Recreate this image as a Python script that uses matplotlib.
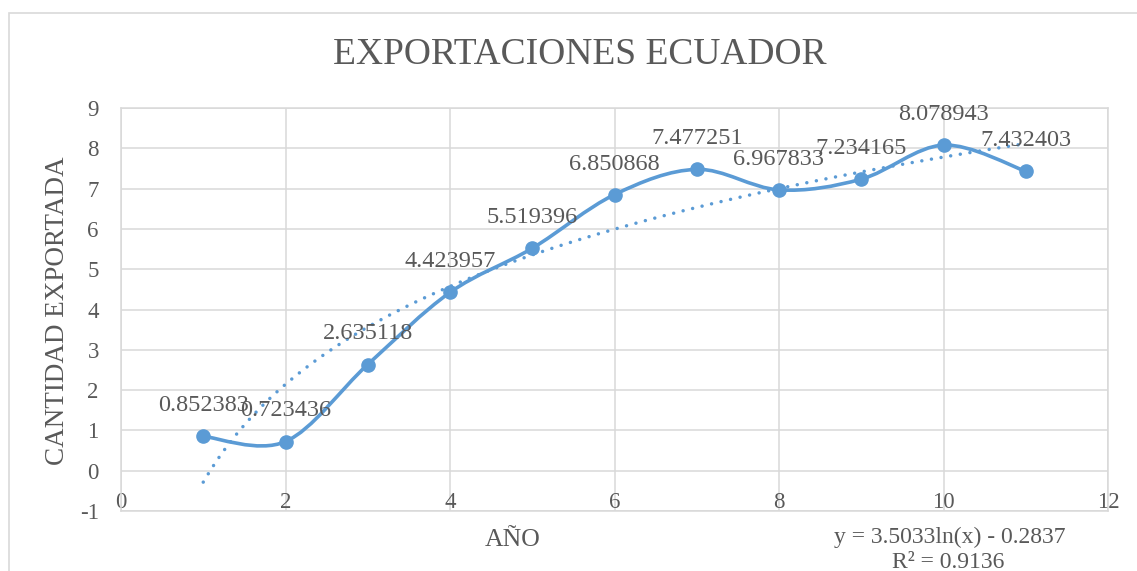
import matplotlib
matplotlib.use("Agg")
import matplotlib.pyplot as plt
import numpy as np
from matplotlib.path import Path
from matplotlib.patches import PathPatch, Rectangle

# exportaciones por año
anios = [1, 2, 3, 4, 5, 6, 7, 8, 9, 10, 11]
cantidad = [0.852383, 0.723436, 2.635118, 4.423957, 5.519396, 6.850868,
            7.477251, 6.967833, 7.234165, 8.078943, 7.432403]

# tendencia logaritmica y = a*ln(x) + b
trend_a = 3.5033
trend_b = -0.2837
trend_r2 = 0.9136

azul = "#5B9BD5"
gris_txt = "#595959"
gris_grid = "#D9D9D9"

plt.rcParams['font.family'] = ['Liberation Serif', 'DejaVu Serif']
plt.rcParams['axes.unicode_minus'] = False


def smooth_path(xs, ys):
    # curva suave tipo Excel: bezier cubica con puntos de control 1/6
    pts = np.column_stack([xs, ys]).astype(float)
    ext = np.vstack([pts[0], pts, pts[-1]])
    verts = [pts[0]]
    codes = [Path.MOVETO]
    for i in range(len(pts) - 1):
        p0, p1, p2, p3 = ext[i], ext[i + 1], ext[i + 2], ext[i + 3]
        c1 = p1 + (p2 - p0) / 6.0
        c2 = p2 - (p3 - p1) / 6.0
        verts += [c1, c2, p2]
        codes += [Path.CURVE4] * 3
    return Path(verts, codes)


fig = plt.figure(figsize=(11.37, 5.71), dpi=100)
ax = fig.add_axes([121 / 1137, 1 - 511 / 571, (1108 - 121) / 1137, (511 - 108) / 571])

# borde del grafico
fig.patches.append(Rectangle((9 / 1137, -0.1), 1.2, 1.1 - 12.5 / 571,
                             transform=fig.transFigure, fill=False,
                             edgecolor=gris_grid, linewidth=1.2))

ax.set_xlim(0, 12)
ax.set_ylim(-1, 9)
ax.set_xticks(np.arange(0, 13, 2))
ax.set_yticks(np.arange(-1, 10, 1))
ax.grid(True, color=gris_grid, linewidth=1.1)
ax.set_axisbelow(True)
for s in ax.spines.values():
    s.set_color(gris_grid)
    s.set_linewidth(1.1)
ax.tick_params(axis='both', length=0, labelsize=16.5, labelcolor=gris_txt)
ax.tick_params(axis='x', pad=-14)
ax.tick_params(axis='y', pad=16)

# linea de tendencia
xt = np.linspace(anios[0], anios[-1], 200)
ax.plot(xt, trend_a * np.log(xt) + trend_b, color=azul, linewidth=2.5,
        dashes=(0.01, 2.8), dash_capstyle='round', zorder=3)

# serie suavizada con marcadores
ax.add_patch(PathPatch(smooth_path(anios, cantidad), fill=False,
                       edgecolor=azul, linewidth=2.6, zorder=4))
ax.plot(anios, cantidad, linestyle='none', marker='o', markersize=9.5,
        color=azul, zorder=5)

for x, y in zip(anios, cantidad):
    ax.annotate(f"{y:.6f}", (x, y), xytext=(0, 22), textcoords='offset points',
                ha='center', va='center', fontsize=17.5, color=gris_txt, zorder=6)

fig.text(579.5 / 1137, 1 - 55 / 571, "EXPORTACIONES ECUADOR", ha='center',
         va='center', fontsize=27, color=gris_txt)
fig.text(57.5 / 1137, 1 - 311 / 571, "CANTIDAD EXPORTADA", rotation=90,
         ha='center', va='center', fontsize=19.5, color=gris_txt)
fig.text(513 / 1137, 1 - 540 / 571, "AÑO", ha='center', va='center',
         fontsize=18.5, color=gris_txt)
fig.text(950 / 1137, 1 - 537 / 571, f"y = {trend_a:.4f}ln(x) - {abs(trend_b):.4f}",
         ha='center', va='center', fontsize=17, color=gris_txt)
fig.text(948 / 1137, 1 - 562 / 571, f"R² = {trend_r2:.4f}",
         ha='center', va='center', fontsize=17, color=gris_txt)

fig.savefig("out.png", dpi=100)
